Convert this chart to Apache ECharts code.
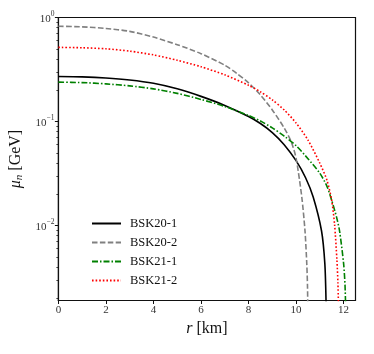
<!DOCTYPE html>
<html>
<head>
<meta charset="utf-8">
<script src="https://cdn.jsdelivr.net/npm/echarts@6/dist/echarts.min.js"></script>
<style>
    html, body {margin: 0; padding: 0; background: #fff;}
    #main {width: 374px; height: 354px;}
</style>
</head>
<body>
<div id="main"></div>
<script>
// radius r [km] and mu_n [GeV]
const bsk20_1_r = [0, 1, 2, 3, 4, 5, 6, 7, 8, 8.5, 9, 9.5, 10, 10.4, 10.72, 11.07, 11.21, 11.26, 11.29];
const bsk20_1_mu = [0.271, 0.2685, 0.262, 0.2506, 0.2329, 0.2061, 0.1744, 0.1428, 0.1117, 0.0956, 0.0783, 0.0599, 0.0420, 0.0288, 0.0188, 0.0089, 0.0043, 0.0019, 0.0006];

const bsk20_2_r = [0, 1, 2, 3, 4, 5, 6, 7, 7.5, 8, 8.5, 9, 9.5, 9.8, 10, 10.24, 10.375, 10.45, 10.48, 10.5];
const bsk20_2_mu = [0.824, 0.813, 0.785, 0.736, 0.648, 0.548, 0.449, 0.3476, 0.2909, 0.2355, 0.1803, 0.1292, 0.0866, 0.0634, 0.0444, 0.0188, 0.0089, 0.0043, 0.00263, 0.0012];

const bsk21_1_r = [0, 1, 2, 3, 4, 5, 6, 7, 8, 8.5, 9, 9.5, 10, 10.5, 11, 11.3, 11.5, 11.7, 11.83, 12.0, 12.06, 12.1];
const bsk21_1_mu = [0.239, 0.2366, 0.230, 0.220, 0.206, 0.1865, 0.163, 0.1396, 0.1143, 0.1011, 0.0869, 0.0724, 0.0586, 0.0439, 0.0318, 0.0238, 0.0174, 0.0121, 0.00885, 0.0043, 0.00263, 0.0012];

const bsk21_2_r = [0, 1, 2, 3, 4, 5, 6, 7, 8, 8.5, 9, 9.5, 10, 10.5, 11, 11.3, 11.5, 11.62, 11.72, 11.76, 11.8];
const bsk21_2_mu = [0.516, 0.512, 0.500, 0.475, 0.437, 0.388, 0.336, 0.281, 0.223, 0.193, 0.1614, 0.1292, 0.0968, 0.0663, 0.0397, 0.0272, 0.0174, 0.01022, 0.00459, 0.00281, 0.0012];

const x_ticks = [0, 2, 4, 6, 8, 10, 12];
const y_major = [0.01, 0.1, 1];
const y_minor = [0.002, 0.003, 0.004, 0.005, 0.006, 0.007, 0.008, 0.009,
    0.02, 0.03, 0.04, 0.05, 0.06, 0.07, 0.08, 0.09,
    0.2, 0.3, 0.4, 0.5, 0.6, 0.7, 0.8, 0.9];
const y_min = 0.0019, y_max = 1;

const serif = '"Liberation Serif", "DejaVu Serif", serif';

function pairs(xs, ys) {
    return xs.map((x, i) => [x, ys[i]]);
}

function mk_line(name, xs, ys, color, type, width) {
    return {
        name: name, type: 'line', data: pairs(xs, ys),
        showSymbol: false, symbol: 'none', smooth: 0.25, clip: true,
        lineStyle: {color: color, width: width, type: type, cap: 'butt'},
        itemStyle: {color: color},
        animation: false
    };
}

const sup_label = (v) => {
    const p = Math.round(Math.log10(v));
    return '{b|10}{s|' + (p < 0 ? '\u2212' + (-p) : p) + '}';
};

let chart = echarts.init(document.getElementById('main'), null, {renderer: 'canvas'});
chart.setOption({
    animation: false,
    grid: {left: 56, top: 17.5, width: 299.5, height: 283, show: true, borderColor: '#111', borderWidth: 1.2, backgroundColor: 'transparent'},
    legend: {
        orient: 'vertical', left: 91, top: 217, padding: 0, itemWidth: 29, itemHeight: 10, itemGap: 6,
        itemStyle: {opacity: 0},
        textStyle: {fontFamily: serif, fontSize: 12.5, color: '#111', padding: [0, 0, 0, 4]},
        data: ['BSK20-1', 'BSK20-2', 'BSK21-1', 'BSK21-2']
    },
    xAxis: {
        type: 'value', min: 0, max: 12.5,
        name: '{i|r} [km]', nameLocation: 'middle', nameGap: 10,
        nameTextStyle: {
            fontFamily: serif, fontSize: 16, color: '#111',
            rich: {i: {fontFamily: serif, fontStyle: 'italic', fontSize: 16, color: '#111'}}
        },
        axisLine: {show: true, lineStyle: {color: '#111', width: 1.2}},
        axisTick: {show: true, length: 3.5, customValues: x_ticks, lineStyle: {color: '#111'}},
        axisLabel: {customValues: x_ticks, fontFamily: serif, fontSize: 11, color: '#333', margin: 4},
        splitLine: {show: false}
    },
    yAxis: [{
        type: 'log', min: y_min, max: y_max, logBase: 10,
        name: '{i|\u03bc}{sub|n} [GeV]', nameLocation: 'middle', nameGap: 27, nameRotate: 90,
        nameTextStyle: {
            fontFamily: serif, fontSize: 16, color: '#111',
            rich: {
                i: {fontFamily: serif, fontStyle: 'italic', fontSize: 16, color: '#111'},
                sub: {fontFamily: serif, fontStyle: 'italic', fontSize: 11, color: '#111', verticalAlign: 'bottom', padding: [6, 0, 0, 0]}
            }
        },
        axisLine: {show: true, lineStyle: {color: '#111', width: 1.2}},
        axisTick: {show: true, length: 3.5, customValues: y_major, lineStyle: {color: '#111'}},
        axisLabel: {
            customValues: y_major, margin: 4, formatter: sup_label,
            rich: {
                b: {fontFamily: serif, fontSize: 11, color: '#333', verticalAlign: 'bottom', lineHeight: 14},
                s: {fontFamily: serif, fontSize: 7.5, color: '#333', verticalAlign: 'top', lineHeight: 14, padding: [0, 0, 5, 0]}
            }
        },
        splitLine: {show: false}
    }, {
        type: 'log', min: y_min, max: y_max, logBase: 10, position: 'left',
        axisLine: {show: false},
        axisTick: {show: true, length: 2, customValues: y_minor, lineStyle: {color: '#111', width: 0.8}},
        axisLabel: {show: false},
        splitLine: {show: false}
    }],
    series: [
        mk_line('BSK20-1', bsk20_1_r, bsk20_1_mu, '#000000', 'solid', 1.6),
        mk_line('BSK20-2', bsk20_2_r, bsk20_2_mu, '#808080', [5.5, 2.4], 1.6),
        mk_line('BSK21-1', bsk21_1_r, bsk21_1_mu, '#008000', [6, 2, 1.5, 2], 1.6),
        mk_line('BSK21-2', bsk21_2_r, bsk21_2_mu, '#ff0000', [1.6, 2], 1.6)
    ]
});
</script>
</body>
</html>
